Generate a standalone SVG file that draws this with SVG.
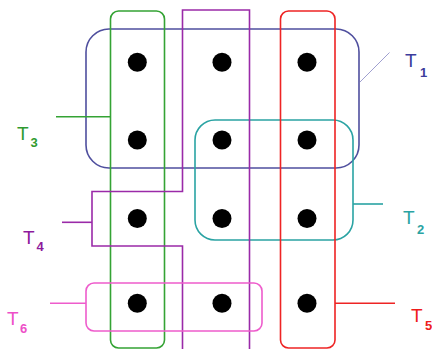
<svg xmlns="http://www.w3.org/2000/svg" width="432" height="349" viewBox="0 0 432 349">
<style>
.e{fill:none;stroke-width:1.6}
.dot{fill:#000}
.lbl{font-family:"Liberation Sans",Arial,sans-serif;font-size:19px}
.sub{font-size:13px;font-weight:bold}
.blue{stroke:#4f4f9e}.green{stroke:#34a334}.purple{stroke:#9a2aa8}.teal{stroke:#2aa3a3}.red{stroke:#ee2424}.pink{stroke:#ee5ccc}
</style>
<rect width="432" height="349" fill="#fff"/>
<g id="T1">
<rect class="e blue" x="86" y="29" width="273" height="139" rx="23"/>
<text class="lbl" x="405" y="67" fill="#3c3c9c">T<tspan class="sub" x="420" y="77">1</tspan></text>
</g>
<g id="T2">
<rect class="e teal" x="195" y="120" width="158" height="120" rx="20"/>
<text class="lbl" x="403" y="224" fill="#2aa3a3">T<tspan class="sub" x="417" y="234">2</tspan></text>
</g>
<g id="T3">
<rect class="e green" x="110.5" y="11" width="54" height="337" rx="8"/>
<text class="lbl" x="17" y="140" fill="#2f9a2f">T<tspan class="sub" x="30.5" y="146.5">3</tspan></text>
</g>
<g id="T4">
<path class="e purple" d="M182.5,352 V246 H92 V191.5 H182.5 V10 H249.5 V352"/>
<text class="lbl" x="23" y="243.5" fill="#8e1a9c">T<tspan class="sub" x="36.5" y="251">4</tspan></text>
</g>
<g id="T5">
<rect class="e red" x="280.5" y="11" width="54.5" height="337" rx="8"/>
<text class="lbl" x="411" y="321.5" fill="#ee1c1c">T<tspan class="sub" x="425" y="330">5</tspan></text>
</g>
<g id="T6">
<rect class="e pink" x="86" y="283" width="176" height="48" rx="8"/>
<text class="lbl" x="7" y="325" fill="#ee4fc8">T<tspan class="sub" x="20" y="333">6</tspan></text>
</g>
<g id="connectors">
<line x1="360" y1="82" x2="389.5" y2="52.5" stroke="#a0a0d0" stroke-width="1"/>
<line class="e teal" x1="353" y1="204" x2="383" y2="204"/>
<line class="e green" x1="56" y1="116.7" x2="110.5" y2="116.7"/>
<line class="e purple" x1="62" y1="222.3" x2="92" y2="222.3"/>
<line class="e pink" x1="50" y1="303.3" x2="86" y2="303.3"/>
<line class="e red" x1="335" y1="303.3" x2="395" y2="303.3"/>
</g>
<g id="v11"><circle class="dot" cx="137.3" cy="62.3" r="9.5"/></g>
<g id="v12"><circle class="dot" cx="222" cy="62.3" r="9.5"/></g>
<g id="v13"><circle class="dot" cx="307" cy="62.3" r="9.5"/></g>
<g id="v21"><circle class="dot" cx="137.3" cy="140" r="9.5"/></g>
<g id="v22"><circle class="dot" cx="222" cy="140" r="9.5"/></g>
<g id="v23"><circle class="dot" cx="307" cy="140" r="9.5"/></g>
<g id="v31"><circle class="dot" cx="137.3" cy="218.5" r="9.5"/></g>
<g id="v32"><circle class="dot" cx="222" cy="218.5" r="9.5"/></g>
<g id="v33"><circle class="dot" cx="307" cy="218.5" r="9.5"/></g>
<g id="v41"><circle class="dot" cx="137.3" cy="303.3" r="9.5"/></g>
<g id="v42"><circle class="dot" cx="222" cy="303.3" r="9.5"/></g>
<g id="v43"><circle class="dot" cx="307" cy="303.3" r="9.5"/></g>
</svg>
